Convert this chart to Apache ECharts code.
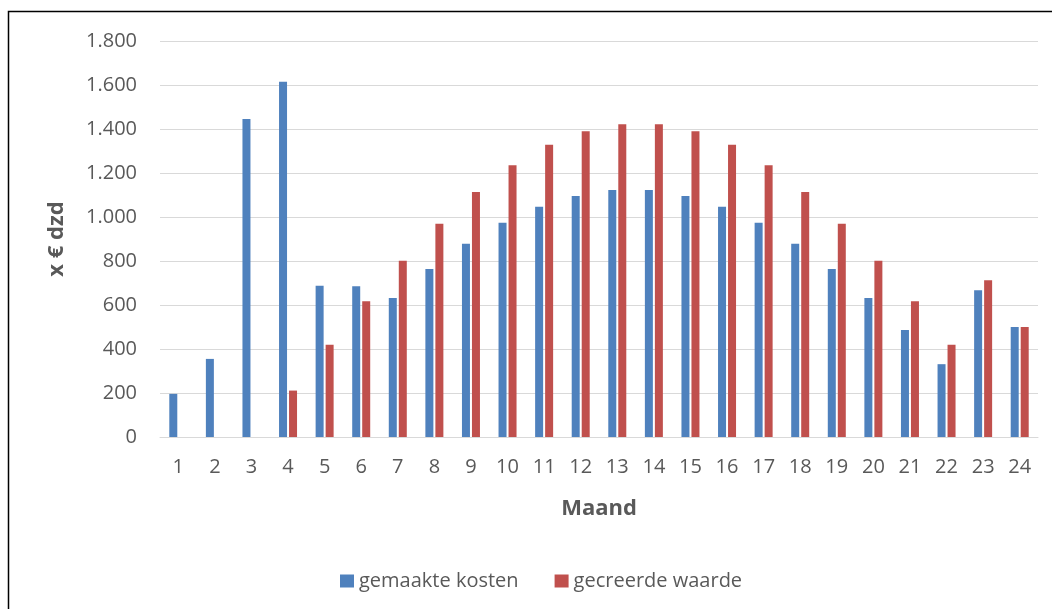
<!DOCTYPE html>
<html>
<head>
<meta charset="utf-8">
<script src="https://cdn.jsdelivr.net/npm/echarts@6/dist/echarts.min.js"></script>
<style>
  html, body { margin: 0; padding: 0; background: #ffffff; }
  #chart { width: 1052px; height: 609px; }
</style>
</head>
<body>
<div id="chart"></div>
<script>
// Months 1..24
const months = ['1','2','3','4','5','6','7','8','9','10','11','12','13','14','15','16','17','18','19','20','21','22','23','24'];
// Costs incurred per month (x € 1000)
const gemaakteKosten = [196, 355, 1445, 1615, 688, 685, 632, 764, 878, 974, 1047, 1096, 1123, 1123, 1096, 1047, 974, 878, 764, 632, 486, 331, 667, 500];
// Value created per month (x € 1000); months 1-3 have none
const gecreerdeWaarde = [null, null, null, 211, 419, 617, 801, 969, 1114, 1235, 1328, 1390, 1422, 1422, 1390, 1328, 1235, 1114, 969, 801, 617, 419, 713, 500];

const textColor = '#595959';
const fontFamily = '"Open Sans", Lato, sans-serif';

const chart = echarts.init(document.getElementById('chart'), null, { renderer: 'canvas' });

chart.setOption({
  backgroundColor: '#ffffff',
  animation: false,
  graphic: [{
    type: 'rect',
    shape: { x: 8.5, y: 11.5, width: 1100, height: 700 },
    style: { fill: 'none', stroke: '#000000', lineWidth: 1.5 },
    silent: true
  }],
  legend: {
    left: 335,
    top: 566,
    itemWidth: 14,
    itemHeight: 13,
    itemGap: 36,
    icon: 'rect',
    textStyle: { color: textColor, fontSize: 20, fontFamily: fontFamily },
    data: ['gemaakte kosten', 'gecreerde waarde']
  },
  grid: { left: 160, right: 14, top: 41, bottom: 172, containLabel: false },
  xAxis: {
    type: 'category',
    data: months,
    name: 'Maand',
    nameLocation: 'middle',
    nameGap: 61,
    nameTextStyle: { color: textColor, fontSize: 22, fontWeight: 'bold', fontFamily: fontFamily },
    axisLine: { show: true, lineStyle: { color: '#d9d9d9', width: 1 } },
    axisTick: { show: false },
    axisLabel: { color: textColor, fontSize: 20, fontFamily: fontFamily, margin: 20 }
  },
  yAxis: {
    type: 'value',
    min: 0,
    max: 1800,
    interval: 200,
    name: 'x € dzd',
    nameLocation: 'middle',
    nameGap: 92,
    nameRotate: 90,
    nameTextStyle: { color: textColor, fontSize: 22, fontWeight: 'bold', fontFamily: fontFamily },
    axisLine: { show: false },
    axisTick: { show: false },
    splitLine: { lineStyle: { color: '#d9d9d9', width: 1 } },
    axisLabel: {
      color: textColor,
      fontSize: 20,
      fontFamily: fontFamily,
      margin: 23,
      formatter: v => String(v).replace(/\B(?=(\d{3})+(?!\d))/g, '.')
    }
  },
  series: [
    {
      name: 'gemaakte kosten',
      type: 'bar',
      data: gemaakteKosten,
      barWidth: 8,
      barGap: '25%',
      itemStyle: { color: '#4F81BD' }
    },
    {
      name: 'gecreerde waarde',
      type: 'bar',
      data: gecreerdeWaarde,
      barWidth: 8,
      barGap: '25%',
      itemStyle: { color: '#C0504D' }
    }
  ]
});
</script>
</body>
</html>
